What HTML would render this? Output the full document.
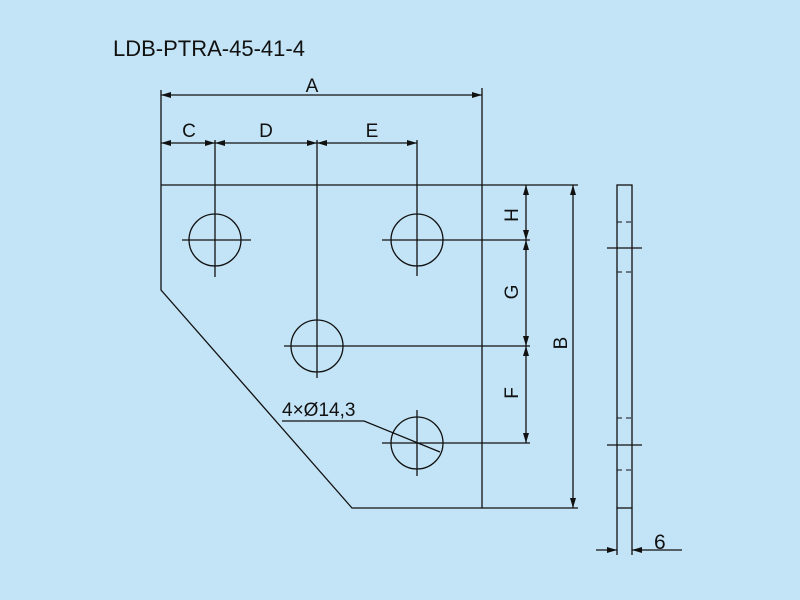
<!DOCTYPE html>
<html><head><style>body{margin:0;background:#c3e4f6}svg{display:block}</style></head><body>
<svg width="800" height="600" viewBox="0 0 800 600" xmlns="http://www.w3.org/2000/svg" font-family="Liberation Sans, sans-serif">
<defs><marker id="a" viewBox="0 0 10 6" refX="10" refY="3" markerWidth="10" markerHeight="6" orient="auto-start-reverse" markerUnits="userSpaceOnUse"><path d="M0,0L10,3L0,6z" fill="#111"/></marker></defs>
<rect width="800" height="600" fill="#c3e4f6"/>
<g fill="none" stroke="#111" stroke-width="1.3">
<polyline points="161,90 161,290 352,508 578,508"/>
<line x1="161" y1="185" x2="578" y2="185"/>
<line x1="482" y1="88" x2="482" y2="508"/>
<circle cx="215" cy="240" r="26"/><circle cx="417" cy="240" r="26"/>
<circle cx="317" cy="346" r="26"/><circle cx="417" cy="443" r="26"/>
<line x1="215" y1="140" x2="215" y2="277"/><line x1="182" y1="240" x2="251" y2="240"/>
<line x1="317" y1="140" x2="317" y2="378"/><line x1="284" y1="346" x2="530" y2="346"/>
<line x1="417" y1="140" x2="417" y2="276"/><line x1="382" y1="240" x2="530" y2="240"/>
<line x1="417" y1="410" x2="417" y2="476"/><line x1="382" y1="443" x2="530" y2="443"/>
<line x1="161" y1="95" x2="482" y2="95" marker-start="url(#a)" marker-end="url(#a)"/>
<line x1="161" y1="143" x2="215" y2="143" marker-start="url(#a)" marker-end="url(#a)"/>
<line x1="215" y1="143" x2="317" y2="143" marker-start="url(#a)" marker-end="url(#a)"/>
<line x1="317" y1="143" x2="417" y2="143" marker-start="url(#a)" marker-end="url(#a)"/>
<line x1="526" y1="185" x2="526" y2="240" marker-start="url(#a)" marker-end="url(#a)"/>
<line x1="526" y1="240" x2="526" y2="346" marker-start="url(#a)" marker-end="url(#a)"/>
<line x1="526" y1="346" x2="526" y2="443" marker-start="url(#a)" marker-end="url(#a)"/>
<line x1="573" y1="185" x2="573" y2="508" marker-start="url(#a)" marker-end="url(#a)"/>
<polyline points="282,421 364,421 440,452"/>
<rect x="617" y="185" width="15" height="323"/>
<line x1="607" y1="248" x2="642" y2="248"/><line x1="607" y1="445" x2="642" y2="445"/>
<line x1="617" y1="508" x2="617" y2="555"/><line x1="632" y1="508" x2="632" y2="555"/>
<line x1="596" y1="550" x2="617" y2="550" marker-end="url(#a)"/>
<line x1="682" y1="550" x2="632" y2="550" marker-end="url(#a)"/>
</g>
<g stroke="#111" stroke-width="1" stroke-dasharray="5,4">
<line x1="617" y1="222" x2="632" y2="222"/><line x1="617" y1="272" x2="632" y2="272"/>
<line x1="617" y1="418" x2="632" y2="418"/><line x1="617" y1="470" x2="632" y2="470"/>
</g>
<g fill="#111" font-size="19">
<text x="113" y="56" font-size="22">LDB-PTRA-45-41-4</text>
<text x="312" y="92" text-anchor="middle">A</text>
<text x="189" y="137" text-anchor="middle">C</text>
<text x="266" y="137" text-anchor="middle">D</text>
<text x="372" y="137" text-anchor="middle">E</text>
<text transform="translate(518,215) rotate(-90)" text-anchor="middle">H</text>
<text transform="translate(518,292) rotate(-90)" text-anchor="middle">G</text>
<text transform="translate(518,393) rotate(-90)" text-anchor="middle">F</text>
<text transform="translate(567,343) rotate(-90)" text-anchor="middle">B</text>
<text x="282" y="416">4×Ø14,3</text>
<text x="654" y="549" font-size="21">6</text>
</g>
</svg>
</body></html>
